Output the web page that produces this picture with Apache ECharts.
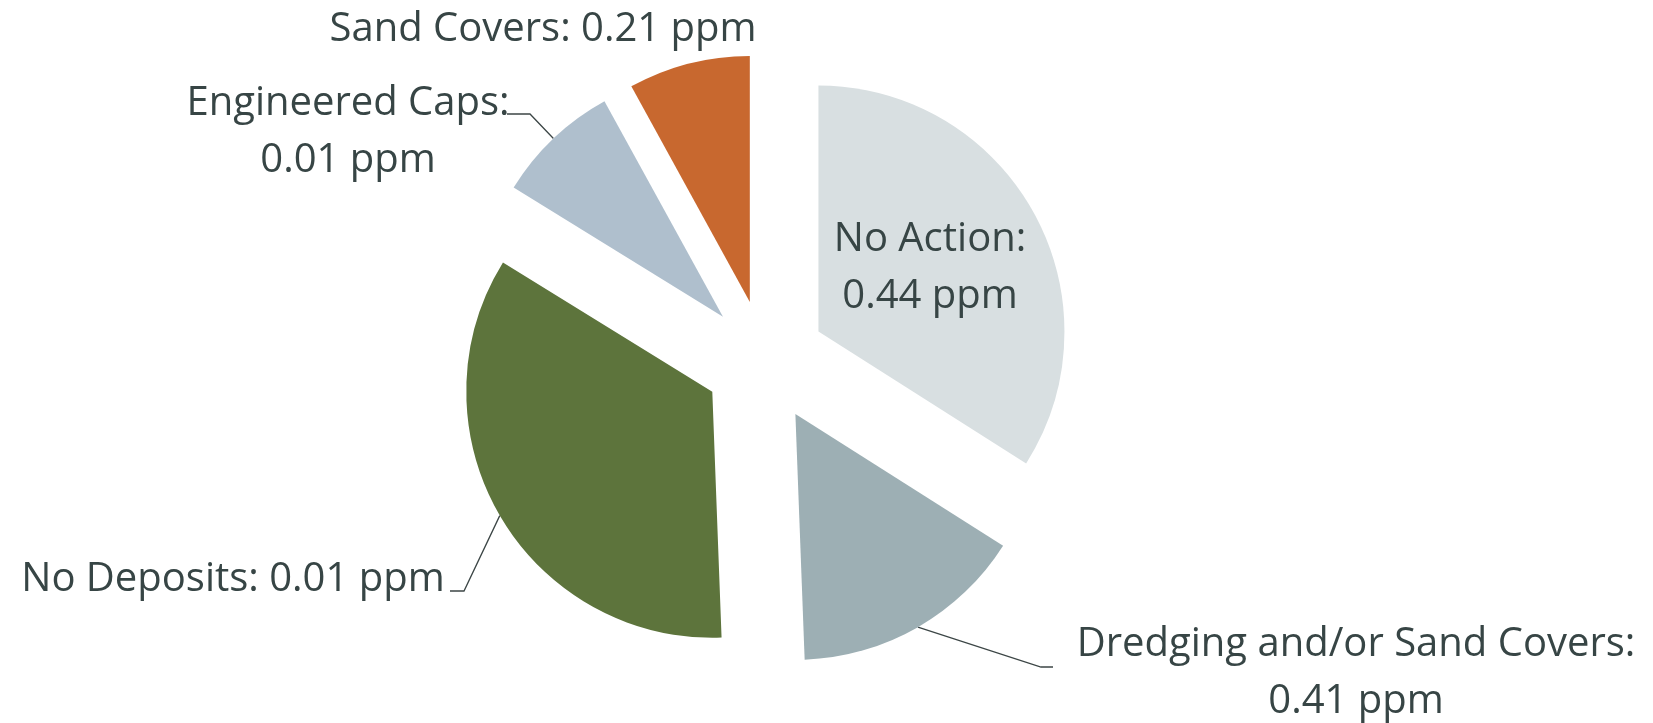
<!DOCTYPE html>
<html>
<head>
<meta charset="utf-8">
<title>Pie</title>
<script src="https://cdn.jsdelivr.net/npm/echarts@6/dist/echarts.min.js"></script>
<style>
  html, body { margin: 0; padding: 0; background: #fff; }
  #chart { width: 1653px; height: 723px; }
</style>
</head>
<body>
<div id="chart"></div>
<script>
// slice names, slice sizes (share of the pie) and the ppm printed in each label
var names = ['No Action', 'Dredging and/or Sand Covers', 'No Deposits', 'Engineered Caps', 'Sand Covers'];
var shares = [34.0, 15.4, 34.4, 8.2, 8.0];
var ppm = ['0.44', '0.41', '0.01', '0.01', '0.21'];

var colors = ['#d8dfe1', '#9dafb4', '#5d743c', '#afbfcd', '#c8682f'];

var pieCenter = [765, 361];
var pieRadius = 246;
var explode = 61;

// where each label sits (text centre) and where its leader line ends
var labelSpots = [
	{ x: 930, y: 268, wrap: true, inside: true },
	{ x: 1356, y: 673, wrap: true, endX: 1053, endY: 667, knee: -12 },
	{ x: 233, y: 580, wrap: false, endX: 450, endY: 591, knee: 14 },
	{ x: 348, y: 132, wrap: true, endX: 507, endY: 114, knee: 23 },
	{ x: 543, y: 30, wrap: false, noLine: true }
];

var myChart = echarts.init(document.getElementById('chart'));

// visible slices, all pulled out
var sliceData = [];
// same slices, transparent, only used to carry the labels
var labelData = [];
for(var i = 0; i < names.length; i++) {
	sliceData.push({
		name: names[i],
		value: shares[i],
		selected: true,
		itemStyle: { color: colors[i] }
	});
	var item = {
		name: names[i],
		value: shares[i]
	};
	if(labelSpots[i].inside) {
		item.label = { position: 'inside' };
		item.labelLine = { show: false };
	}
	if(labelSpots[i].noLine) {
		item.labelLine = { show: false };
	}
	labelData.push(item);
}

var option = {
	animation: false,
	series: [{
		type: 'pie',
		center: pieCenter,
		radius: pieRadius,
		startAngle: 90,
		clockwise: true,
		selectedMode: 'multiple',
		selectedOffset: explode,
		emphasis: { disabled: true },
		label: { show: false },
		labelLine: { show: false },
		data: sliceData
	}, {
		type: 'pie',
		silent: true,
		center: pieCenter,
		radius: pieRadius,
		startAngle: 90,
		clockwise: true,
		avoidLabelOverlap: false,
		emphasis: { disabled: true },
		itemStyle: { color: 'rgba(0,0,0,0)' },
		data: labelData,
		label: {
			show: true,
			position: 'outside',
			fontFamily: 'Open Sans',
			fontSize: 40,
			lineHeight: 57,
			color: '#374545',
			opacity: 1,
			align: 'center',
			formatter: function(p) {
				var s = labelSpots[p.dataIndex];
				return p.name + ':' + (s.wrap ? '\n' : ' ') + ppm[p.dataIndex] + ' ppm';
			}
		},
		labelLine: {
			show: true,
			length: 10,
			length2: 10,
			lineStyle: { color: '#3c4646', width: 1.3, opacity: 1 }
		},
		labelLayout: function(params) {
			var s = labelSpots[params.dataIndex];
			var out = { x: s.x, y: s.y, align: 'center', verticalAlign: 'middle' };
			if(s.endX != null && params.labelLinePoints) {
				// start on the outer edge of the pulled-out slice
				var p0 = params.labelLinePoints[0];
				var dx = p0[0] - pieCenter[0];
				var dy = p0[1] - pieCenter[1];
				var len = Math.sqrt(dx * dx + dy * dy);
				var start = [p0[0] + dx / len * explode, p0[1] + dy / len * explode];
				out.labelLinePoints = [
					start,
					[s.endX + s.knee, s.endY],
					[s.endX, s.endY]
				];
			}
			return out;
		}
	}]
};
myChart.setOption(option);
</script>
</body>
</html>
